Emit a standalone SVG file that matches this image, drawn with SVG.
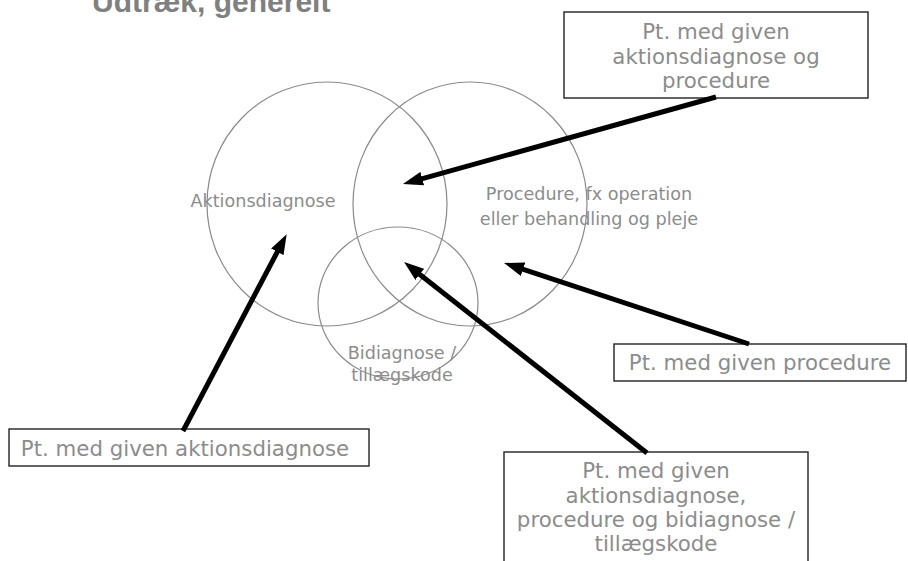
<svg xmlns="http://www.w3.org/2000/svg" width="908" height="561" viewBox="0 0 908 561">
<style>
.circ{fill:none;stroke:#8a8a8a;stroke-width:1.2}
.box{fill:#fff;stroke:#222;stroke-width:1.4}
.lbl{font-family:"DejaVu Sans",Verdana,sans-serif;fill:#8c8c8c;font-size:17.6px;text-anchor:middle}
.blbl{font-family:"DejaVu Sans",Verdana,sans-serif;fill:#8c8c8c;font-size:21.3px;text-anchor:middle}
.title{font-family:"Liberation Sans",Arial,sans-serif;font-weight:bold;fill:#808080;font-size:30px}
.arr{stroke:#000;stroke-width:5;fill:none;marker-end:url(#ah)}
</style>
<defs>
<marker id="ah" viewBox="0 0 20 14" refX="10" refY="7" markerWidth="20" markerHeight="14" markerUnits="userSpaceOnUse" orient="auto">
<path d="M0,0 L20,7 L0,14 Z" fill="#000"/>
</marker>
</defs>
<rect width="908" height="561" fill="#fff"/>
<text class="title" x="92" y="12">Udtræk, generelt</text>

<g id="aktionsdiagnose">
<ellipse class="circ" cx="327" cy="204" rx="120" ry="122"/>
<text class="lbl" x="263" y="207">Aktionsdiagnose</text>
</g>
<g id="procedure">
<ellipse class="circ" cx="470" cy="204" rx="117" ry="122"/>
<text class="lbl" x="589" y="200">Procedure, fx operation</text>
<text class="lbl" x="589" y="225">eller behandling og pleje</text>
</g>
<g id="bidiagnose">
<ellipse class="circ" cx="398" cy="303" rx="80" ry="76"/>
<text class="lbl" x="402" y="359">Bidiagnose /</text>
<text class="lbl" x="402" y="381">tillægskode</text>
</g>

<g id="box-akt-proc">
<rect class="box" x="564" y="12" width="304" height="86"/>
<text class="blbl" x="716" y="39">Pt. med given</text>
<text class="blbl" x="716" y="64">aktionsdiagnose og</text>
<text class="blbl" x="716" y="88">procedure</text>
</g>
<g id="box-proc">
<rect class="box" x="614" y="344" width="292" height="37"/>
<text class="blbl" x="760" y="370">Pt. med given procedure</text>
</g>
<g id="box-akt">
<rect class="box" x="9" y="429" width="360" height="37"/>
<text class="blbl" x="185" y="456">Pt. med given aktionsdiagnose</text>
</g>
<g id="box-all">
<rect class="box" x="504" y="452" width="304" height="120"/>
<text class="blbl" x="656" y="478">Pt. med given</text>
<text class="blbl" x="656" y="503">aktionsdiagnose,</text>
<text class="blbl" x="656" y="527">procedure og bidiagnose /</text>
<text class="blbl" x="656" y="551">tillægskode</text>
</g>

<g id="connectors">
<line class="arr" x1="716" y1="97" x2="412.6" y2="181.3"/>
<line class="arr" x1="183" y1="431" x2="282" y2="243"/>
<line class="arr" x1="749" y1="344" x2="513.5" y2="266.1"/>
<line class="arr" x1="647" y1="453" x2="411.9" y2="268.2"/>
</g>
</svg>
